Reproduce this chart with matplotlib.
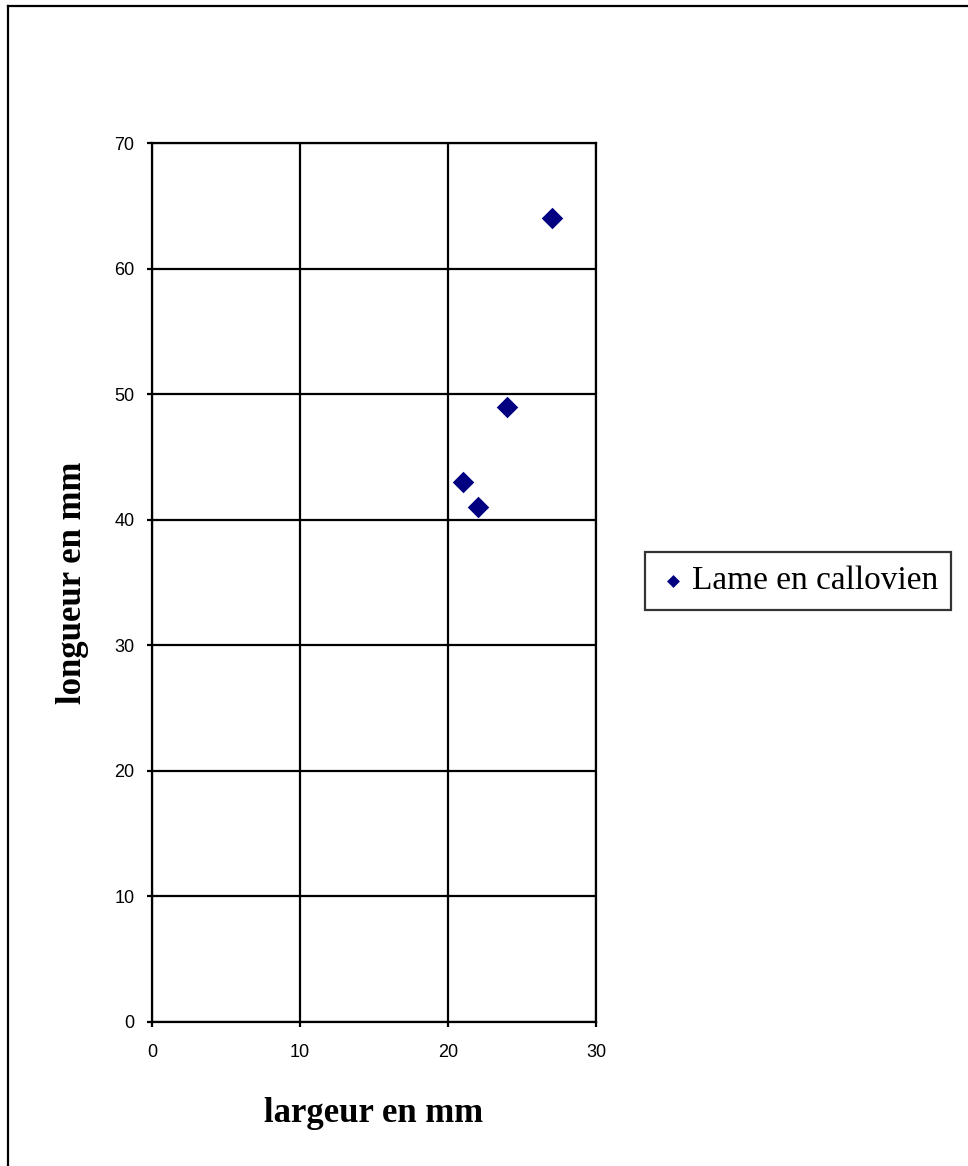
import matplotlib.pyplot as plt
from matplotlib.lines import Line2D

# data
largeur = [21, 22, 24, 27]
longueur = [43, 41, 49, 64]
serie = 'Lame en callovien'
x_ticks = [0, 10, 20, 30]
y_ticks = [0, 10, 20, 30, 40, 50, 60, 70]


def main():
    W, H = 968, 1166
    fig = plt.figure(figsize=(W / 100, H / 100), dpi=100)

    # outer frame (open on the right and bottom like the original crop)
    fig.add_artist(Line2D([8 / W, 8 / W], [0, 1 - 6 / H], color='black', lw=1.6,
                          transform=fig.transFigure))
    fig.add_artist(Line2D([8 / W, 1], [1 - 6 / H, 1 - 6 / H], color='black', lw=1.6,
                          transform=fig.transFigure))

    ax = fig.add_axes([152 / W, 1 - 1022 / H, (596 - 152) / W, (1022 - 143) / H])
    ax.scatter(largeur, longueur, marker='D', s=120, color='#000080', zorder=3,
               label=serie, linewidths=0)

    ax.set_xlim(0, 30)
    ax.set_ylim(0, 70)
    ax.set_xticks(x_ticks)
    ax.set_yticks(y_ticks)
    ax.grid(True, color='black', lw=1.6)
    ax.set_axisbelow(True)
    for s in ax.spines.values():
        s.set_linewidth(1.6)
    ax.tick_params(direction='out', length=3.6, width=1.6)
    ax.tick_params(axis='x', pad=12)
    ax.tick_params(axis='y', pad=9)
    for lab in ax.get_xticklabels() + ax.get_yticklabels():
        lab.set_fontfamily('Liberation Sans')
        lab.set_fontsize(13)

    ax.set_xlabel('largeur en mm', fontfamily='Liberation Serif', fontweight='bold',
                  fontsize=25, labelpad=26)
    ax.set_ylabel('longueur en mm', fontfamily='Liberation Serif', fontweight='bold',
                  fontsize=25, labelpad=18)

    leg = ax.legend(loc='center left', bbox_to_anchor=(645 / W, 1 - 581 / H),
                    bbox_transform=fig.transFigure, frameon=True, fancybox=False,
                    prop={'family': 'Liberation Serif', 'size': 24},
                    handletextpad=0.1, handlelength=0.9, borderpad=0.4,
                    borderaxespad=0, markerscale=0.6)
    leg.get_frame().set_edgecolor('black')
    leg.get_frame().set_linewidth(1.6)

    fig.savefig('out.png', dpi=100)


if __name__ == "__main__":
    main()
